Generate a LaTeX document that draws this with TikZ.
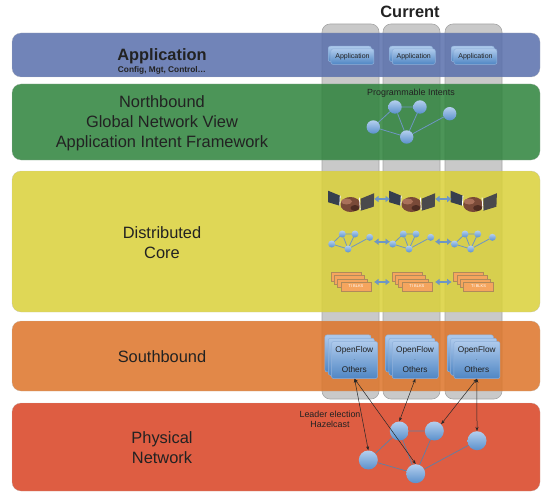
\documentclass[tikz,border=0pt]{standalone}
\usepackage{fontspec}
\setmainfont{Liberation Sans}
\usetikzlibrary{arrows.meta,shadings}
\definecolor{ink}{HTML}{222222}
\definecolor{edgeblue}{HTML}{6E96C4}
\definecolor{nettop}{HTML}{B4CFEE}
\definecolor{netbot}{HTML}{5A90CC}
\definecolor{boxtop}{HTML}{AECAEC}
\definecolor{boxbot}{HTML}{4F86C4}
\definecolor{boxline}{HTML}{8FB0DA}
\definecolor{cardfill}{HTML}{F5A55E}
\definecolor{cardline}{HTML}{B08A5A}
\definecolor{sleevea}{HTML}{363F4E}
\definecolor{sleeveb}{HTML}{4A4A4C}
\definecolor{handa}{HTML}{7A4A38}
\definecolor{handb}{HTML}{A9705A}
\definecolor{handc}{HTML}{4E2C22}
\tikzset{
  x=1pt,y=-1pt,
  column/.style={fill=black!21,draw=black!35,line width=.6pt,rounded corners=8pt},
  band/.style={draw=white!70!black,line width=.4pt,rounded corners=9pt,fill opacity=.86,draw opacity=.5},
  bandtext/.style={text=ink,font=\fontsize{16.4}{20}\selectfont,align=center,inner sep=0pt},
  net/.style={circle,draw=none,inner sep=0pt,top color=nettop,bottom color=netbot},
  netline/.style={draw=edgeblue,line width=.8pt},
  netlinebig/.style={draw=edgeblue!85!black,line width=.7pt},
  bluebox/.style={draw=boxline,line width=.5pt,rounded corners=2pt,top color=boxtop,bottom color=boxbot,inner sep=0pt,align=center,text=ink},
  orangebox/.style={draw=cardline,line width=.4pt,fill=cardfill,inner sep=0pt,text=white},
  dbl/.style={{Latex[length=4.5pt,width=7pt]}-{Latex[length=4.5pt,width=7pt]},draw=edgeblue,line width=1.8pt},
  link/.style={{Stealth[length=4pt,width=3pt]}-{Stealth[length=4pt,width=3pt]},draw=black!85,line width=.5pt},
}
\begin{document}
\begin{tikzpicture}
\useasboundingbox (0,0) rectangle (553,497);
% columns behind the translucent bands
\foreach \cx in {322,383,445}
  \draw[column] (\cx,24) rectangle ++(57,375);
% bands
\draw[band,fill={rgb,255:red,90;green,112;blue,172}] (12,33) rectangle (540,77);
\draw[band,fill={rgb,255:red,47;green,131;blue,61}] (12,84) rectangle (540,160);
\draw[band,fill={rgb,255:red,218;green,209;blue,58}] (12,171) rectangle (540,312);
\draw[band,fill={rgb,255:red,221;green,117;blue,42}] (12,321) rectangle (540,391);
\draw[band,fill={rgb,255:red,216;green,66;blue,35}] (12,403) rectangle (540,491);
% labels
\node[font=\fontsize{16.4}{20}\selectfont\bfseries,text=ink,inner sep=0pt] (title) at (410,11.5) {Current};
\node[bandtext,font=\fontsize{16.4}{20}\selectfont\bfseries] (lapp) at (162,56) {Application};
\node[font=\fontsize{8.3}{10}\selectfont\bfseries,text=ink,inner sep=0pt] (lcfg) at (162,70) {Config, Mgt, Control\dots};
\node[bandtext] (lnorth) at (162,123.5) {Northbound\\Global Network View\\Application Intent Framework};
\node[bandtext] (lcore) at (162,243) {Distributed\\Core};
\node[bandtext] (lsouth) at (162,357) {Southbound};
\node[bandtext] (lphys) at (162,448) {Physical\\Network};
% application stacks
\foreach \i/\x in {1/330.7,2/392,3/453.7}{
  \node[bluebox,minimum width=43pt,minimum height=15.4pt,anchor=north west] (appb\i) at (\x-2.7,46) {};
  \node[bluebox,minimum width=43pt,minimum height=15.4pt,anchor=north west,font=\fontsize{7}{8}\selectfont] (appf\i) at (\x,48.7) {Application};
}
% programmable intents
\node[font=\fontsize{8.9}{10}\selectfont,text=ink,inner sep=0pt] (lprog) at (411,93) {Programmable Intents};
\draw[netline] (373.3,127) coordinate (tac) -- (395,107) coordinate (tbc) -- (420,107) coordinate (tcc) -- (406.7,137) coordinate (tec) -- cycle;
\node[net,minimum size=13.4pt] (ta) at (tac) {};
\node[net,minimum size=13.4pt] (tb) at (tbc) {};
\node[net,minimum size=13.4pt] (tc) at (tcc) {};
\node[net,minimum size=13.4pt] (td) at (449.7,113.7) {};
\node[net,minimum size=13.4pt] (te) at (tec) {};
\draw[netline] (tb)--(te) (td)--(te);
% core rows
\foreach \i/\dx in {1/0,2/61,3/122.7}{
  \begin{scope}[shift={(\dx,0)}]
    % handshake
    \fill[sleevea] (328,190.7)--(340.2,195.7)--(339.7,205.7)--(328,202.2)--cycle;
    \fill[sleeveb] (374.2,193.2)--(360.7,198.7)--(360.7,210.7)--(373.7,206.7)--cycle;
    \fill[handa] (350.5,204.5) ellipse (10pt and 7.5pt);
    \fill[handb] (346.5,201.5) ellipse (5.5pt and 3pt);
    \fill[handc] (355,208) ellipse (4.5pt and 3pt);
    \draw[white,line width=.8pt] (340.2,195.7)--(339.7,205.7) (359.4,197.7)--(360.2,209.7);
    % network
    \draw[netline] (331.7,244) coordinate (cac\i) -- (342.3,234) coordinate (cbc\i) -- (355,234) coordinate (ccc\i) -- (348,249) coordinate (cec\i) -- cycle;
    \node[net,minimum size=7pt] (ca\i) at (cac\i) {};
    \node[net,minimum size=7pt] (cb\i) at (cbc\i) {};
    \node[net,minimum size=7pt] (cc\i) at (ccc\i) {};
    \node[net,minimum size=7pt] (cd\i) at (369.7,237.3) {};
    \node[net,minimum size=7pt] (ce\i) at (cec\i) {};
    \draw[netline] (cb\i)--(ce\i) (cd\i)--(ce\i);
    % stacked cards
    \node[orangebox,minimum width=30pt,minimum height=8.6pt,anchor=north west] (ma\i) at (330.7,272) {};
    \node[orangebox,minimum width=30pt,minimum height=8.6pt,anchor=north west] (mb\i) at (334,275.3) {};
    \node[orangebox,minimum width=30pt,minimum height=8.6pt,anchor=north west] (mc\i) at (337.4,278.7) {};
    \node[orangebox,minimum width=30pt,minimum height=8.6pt,anchor=north west,font=\fontsize{4}{5}\selectfont] (md\i) at (340.7,282) {TI BLKS};
    % arrow ends
    \coordinate (hsr\i) at (374,199);
    \coordinate (hsl\i) at (329,199);
    \coordinate (nr\i) at (374,241.7);
    \coordinate (nl\i) at (329,241.7);
    \coordinate (mr\i) at (374,282);
    \coordinate (ml\i) at (329,282);
  \end{scope}
}
\draw[dbl] (hsr1)--(hsl2);
\draw[dbl] (hsr2)--(hsl3);
\draw[dbl] (nr1)--(nl2);
\draw[dbl] (nr2)--(nl3);
\draw[dbl] (mr1)--(ml2);
\draw[dbl] (mr2)--(ml3);
% southbound stacks
\foreach \i/\x in {1/331.3,2/392,3/453.7}{
  \node[bluebox,minimum width=46pt,minimum height=37pt,anchor=north west] (ofa\i) at (\x-6.6,334.7) {};
  \node[bluebox,minimum width=46pt,minimum height=37pt,anchor=north west] (ofb\i) at (\x-3.3,338) {};
  \node[bluebox,minimum width=46pt,minimum height=37pt,anchor=north west] (of\i) at (\x,341.3) {};
  \node[font=\fontsize{8.3}{10}\selectfont,text=ink,inner sep=0pt] (oft\i) at (\x+23,350) {OpenFlow};
  \node[font=\fontsize{8.3}{10}\selectfont,text=ink,inner sep=0pt] (ofo\i) at (\x+23,370) {Others};
  \node[font=\fontsize{5}{6}\selectfont,text=ink,inner sep=0pt] (ofd\i) at (\x+23,360.5) {.};
}
% physical network
\node[font=\fontsize{8.9}{10}\selectfont,text=ink,align=center,inner sep=0pt] (lleader) at (330,419) {Leader election\\Hazelcast};
\node[net,minimum size=19pt] (pa) at (368.3,460) {};
\node[net,minimum size=19pt] (pb) at (399.3,431) {};
\node[net,minimum size=19pt] (pc) at (434.3,431) {};
\node[net,minimum size=19pt] (pd) at (477,440.7) {};
\node[net,minimum size=19pt] (pe) at (415.7,473.7) {};
\draw[netlinebig] (pa)--(pb) (pb)--(pc) (pb)--(pe) (pc)--(pe) (pa)--(pe) (pd)--(pe);
\draw[link] (of1.south)--(pa.north);
\draw[link] (of1.south)--(pe.north);
\draw[link] (of2.south)--(pb.north);
\draw[link] (of3.south)--(pc.north east);
\draw[link] (of3.south)--(pd.north);
\end{tikzpicture}
\end{document}
